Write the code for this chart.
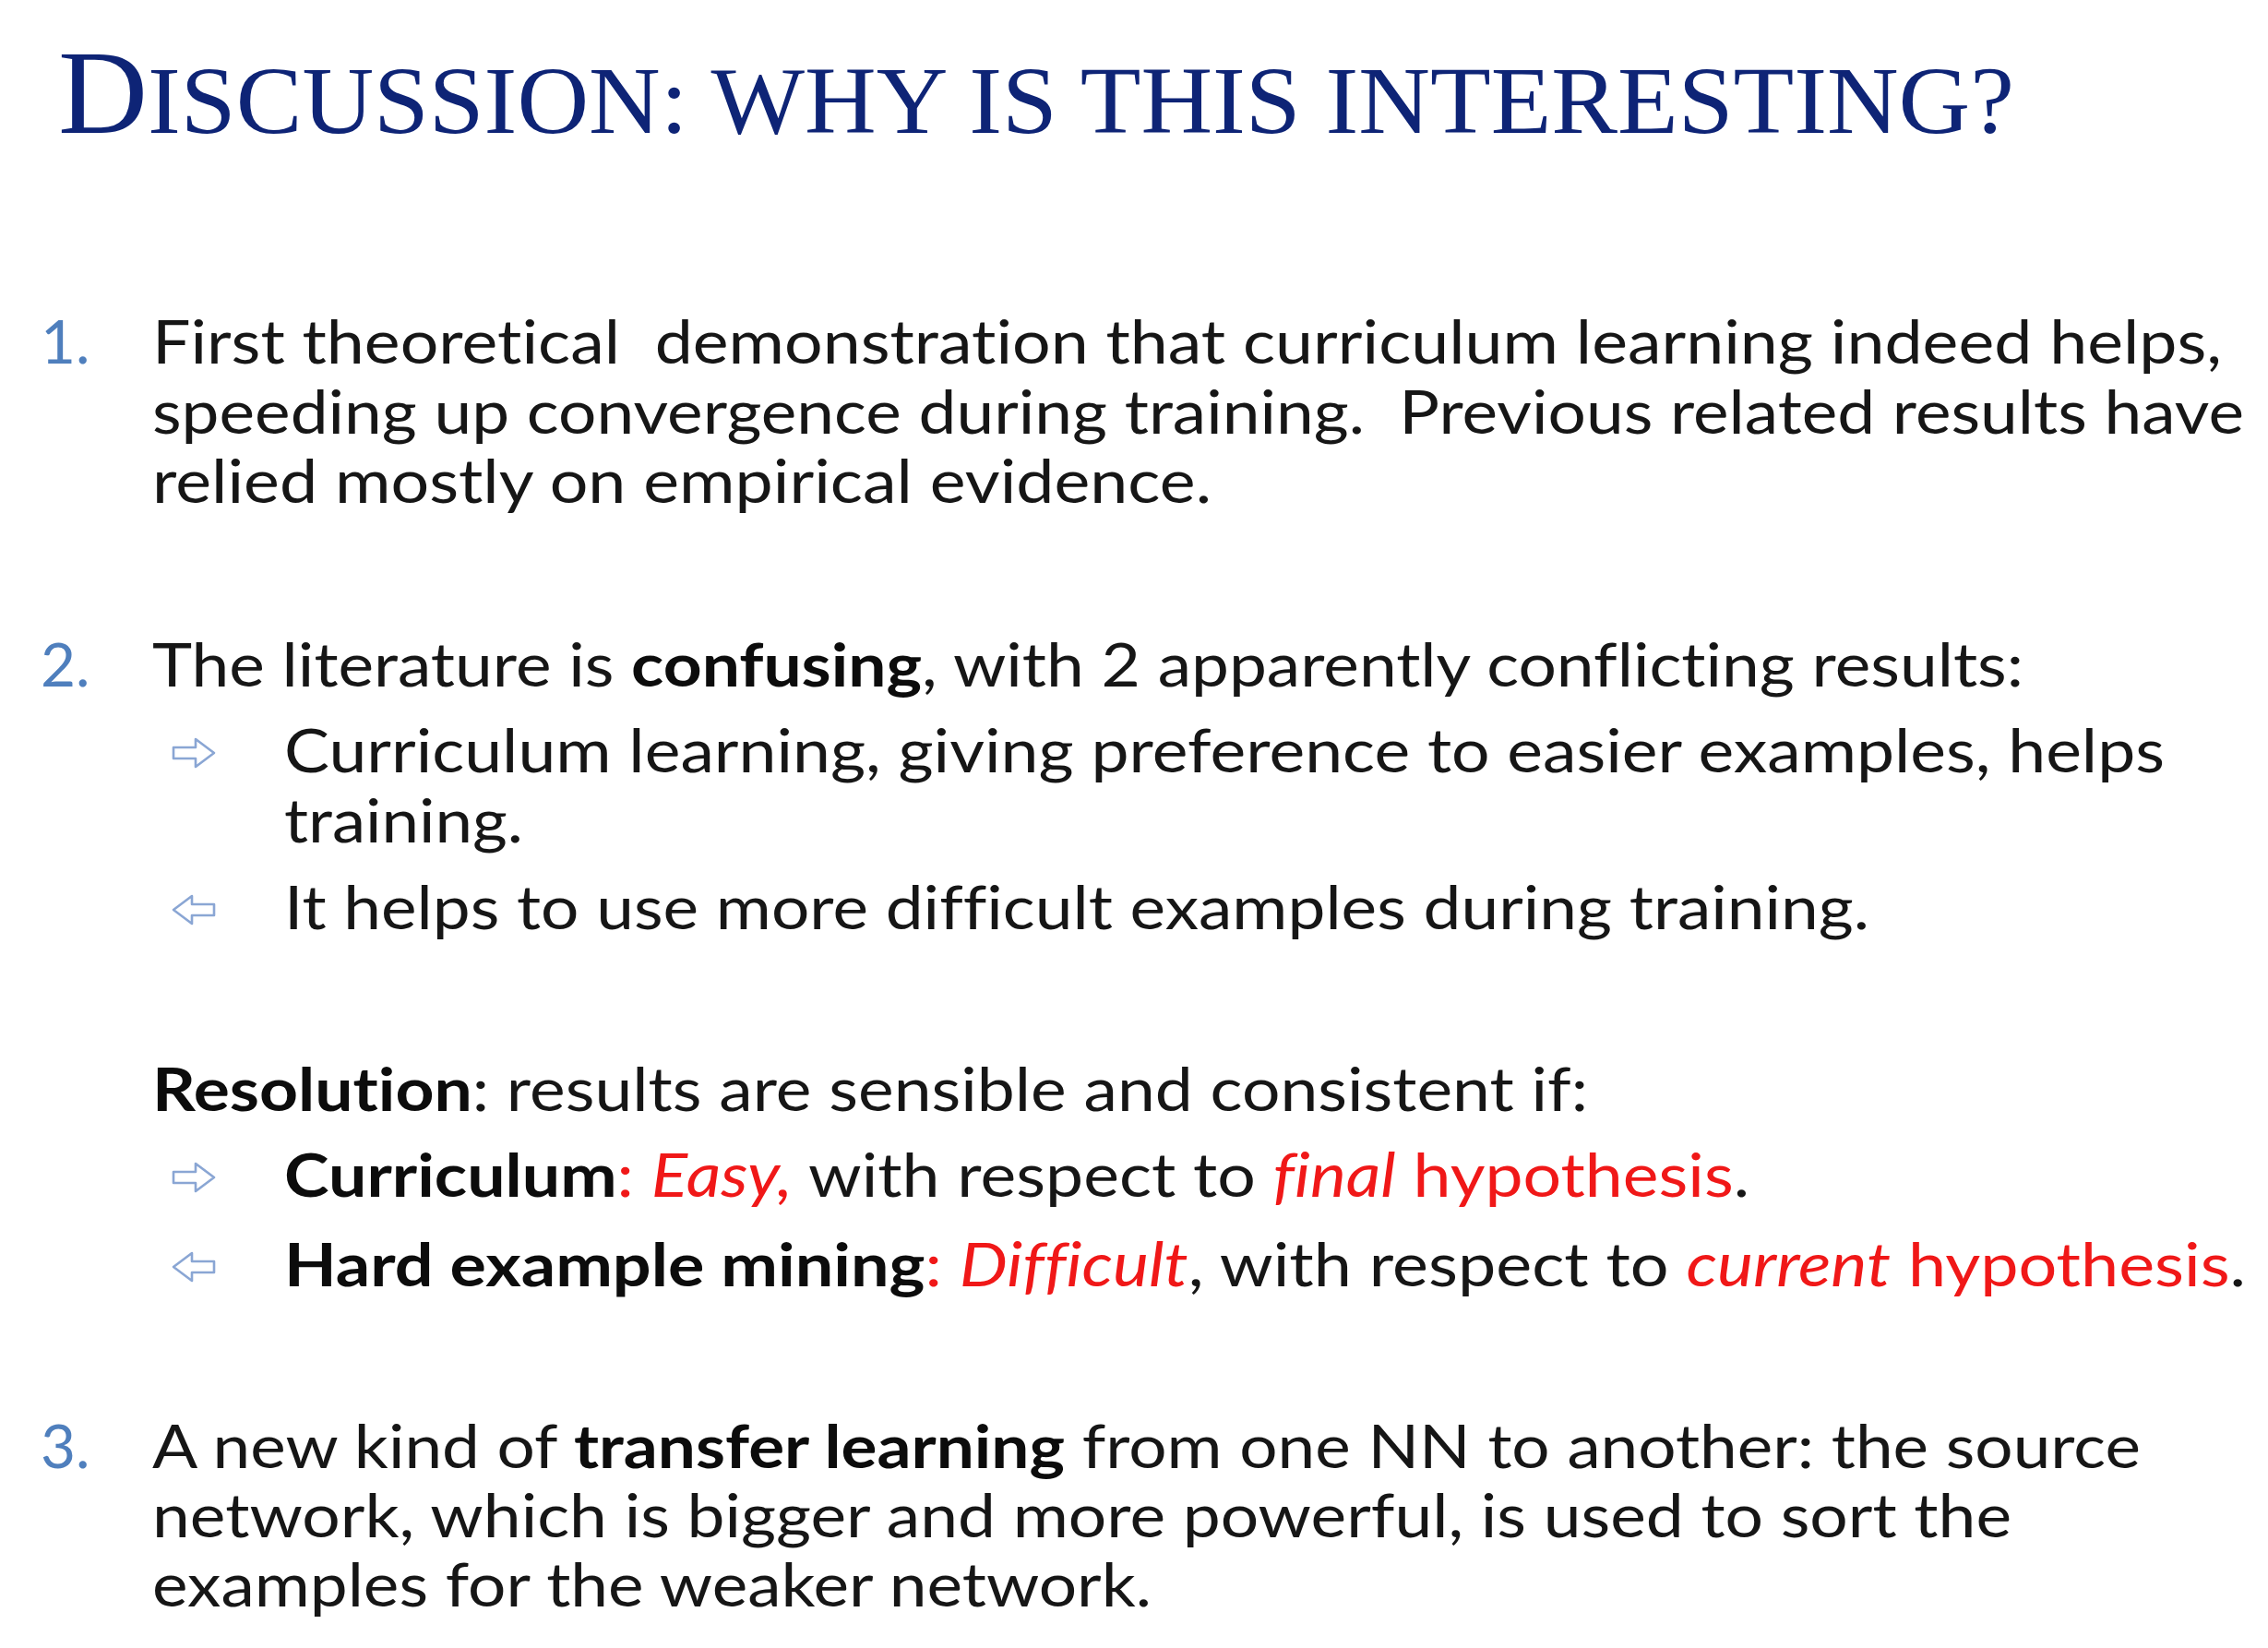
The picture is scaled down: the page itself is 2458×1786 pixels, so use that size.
<!DOCTYPE html>
<html>
<head>
<meta charset="utf-8">
<title>Discussion: why is this interesting?</title>
<script src="https://cdn.jsdelivr.net/npm/chart.js@4.4.1/dist/chart.umd.min.js"></script>
<style>
  html, body { margin: 0; padding: 0; background: #fff; }
  #slide { position: relative; width: 2458px; height: 1786px; overflow: hidden; background: #fff; }
  .ln { position: absolute; left: 0; top: 0; white-space: pre; transform-origin: 0 0;
        font-family: Lato, "Open Sans", sans-serif; font-size: 65.6px; line-height: 1.2; color: #161616;
        font-variant-ligatures: no-common-ligatures; }
  .ln b { font-weight: 700; color: #0c0c0c; }
  .ln .r { color: #f01818; }
  .ln i.r { font-style: italic; }
  .num { color: #4f7fbd; }
  .title { font-family: "Liberation Serif", "DejaVu Serif", serif; color: #0e2476; }
  .title .big { font-size: 130px; }
  .title .sc { font-size: 104px; text-transform: uppercase; }
  .mark { display: inline-block; width: 0; height: 0; vertical-align: baseline; }
  svg.arrow { position: absolute; }
</style>
</head>
<body>
<div id="slide"></div>
<script>
// slide text
var titleText = "Discussion: why is this interesting?";
var itemNumbers = ["1.", "2.", "3."];
var item1Lines = [
    "First theoretical  demonstration that curriculum learning indeed helps,",
    "speeding up convergence during training.  Previous related results have",
    "relied mostly on empirical evidence."
];
var item2Lines = ["The literature is <b>confusing</b>, with 2 apparently conflicting results:"];
var item2Bullets = [
    "Curriculum learning, giving preference to easier examples, helps",
    "training.",
    "It helps to use more difficult examples during training."
];
var resolutionLines = ["<b>Resolution</b>: results are sensible and consistent if:"];
var resolutionBullets = [
    "<b>Curriculum</b><span class=\"r\">: </span><i class=\"r\">Easy,</i> with respect to <i class=\"r\">final</i><span class=\"r\"> hypothesis</span>.",
    "<b>Hard example mining</b><span class=\"r\">: </span><i class=\"r\">Difficult</i>, with respect to <i class=\"r\">current</i><span class=\"r\"> hypothesis</span>."
];
var item3Lines = [
    "A new kind of <b>transfer learning</b> from one NN to another: the source",
    "network, which is bigger and more powerful, is used to sort the",
    "examples for the weaker network."
];
var arrowDirections = ["right", "left", "right", "left"];

// layout of the slide (pixels)
var allLines = [].concat(item1Lines, item2Lines, item2Bullets, resolutionLines, resolutionBullets, item3Lines);
var lineX     = [165, 165, 165, 165, 308, 308, 308, 165, 308, 308, 165, 165, 165];
var lineBase  = [394, 470, 545, 744, 837, 913, 1007, 1204, 1297, 1394, 1591, 1666, 1741];
var lineRight = [2408, 2432, 1313, 2193, 2346, 567, 2026, 1721, 1896, 2434, 2320, 2180, 1248];
var numberLine = [0, 3, 10];
var arrowLine = [4, 6, 8, 9];

var slide = document.getElementById("slide");

// place a block so that its baseline sits at y and it spans x..right
function placeLine(html, cls, x, y, right) {
    var div = document.createElement("div");
    div.className = "ln " + cls;
    div.innerHTML = html + '<span class="mark"></span>';
    slide.appendChild(div);
    var mark = div.querySelector(".mark");
    var baseOffset = mark.getBoundingClientRect().bottom - div.getBoundingClientRect().top;
    div.style.top = (y - baseOffset) + "px";
    div.style.left = x + "px";
    if (right) {
        var w = div.getBoundingClientRect().width;
        div.style.transform = "scaleX(" + ((right - x) / w) + ")";
    }
    return div;
}

function drawArrow(dir, x, baseline) {
    var ns = "http://www.w3.org/2000/svg";
    var svg = document.createElementNS(ns, "svg");
    svg.setAttribute("class", "arrow");
    svg.setAttribute("width", 48);
    svg.setAttribute("height", 34);
    svg.setAttribute("viewBox", "0 0 48 34");
    svg.style.left = x + "px";
    svg.style.top = (baseline - 21 - 17) + "px";
    var poly = document.createElementNS(ns, "polygon");
    poly.setAttribute("points", "2,11 26,11 26,2 46,17 26,32 26,23 2,23");
    poly.setAttribute("fill", "#ffffff");
    poly.setAttribute("stroke", "#8aa6d4");
    poly.setAttribute("stroke-width", "2.6");
    poly.setAttribute("stroke-linejoin", "round");
    if (dir === "left") poly.setAttribute("transform", "translate(48,0) scale(-1,1)");
    svg.appendChild(poly);
    slide.appendChild(svg);
}

function render() {
    // title: capital letters full size, the rest as small capitals
    var first = titleText.charAt(0);
    var titleHtml = '<span class="big">' + first + '</span><span class="sc">' + titleText.slice(1) + '</span>';
    placeLine(titleHtml, "title", 63, 143.5, 2183);

    for (var i = 0; i < allLines.length; i++) {
        placeLine(allLines[i], "", lineX[i], lineBase[i], lineRight[i]);
    }
    for (var n = 0; n < itemNumbers.length; n++) {
        placeLine(itemNumbers[n], "num", 44, lineBase[numberLine[n]], null);
    }
    for (var a = 0; a < arrowDirections.length; a++) {
        drawArrow(arrowDirections[a], 186, lineBase[arrowLine[a]]);
    }
}

if (document.fonts && document.fonts.ready) {
    document.fonts.ready.then(render);
} else {
    render();
}
</script>
</body>
</html>
